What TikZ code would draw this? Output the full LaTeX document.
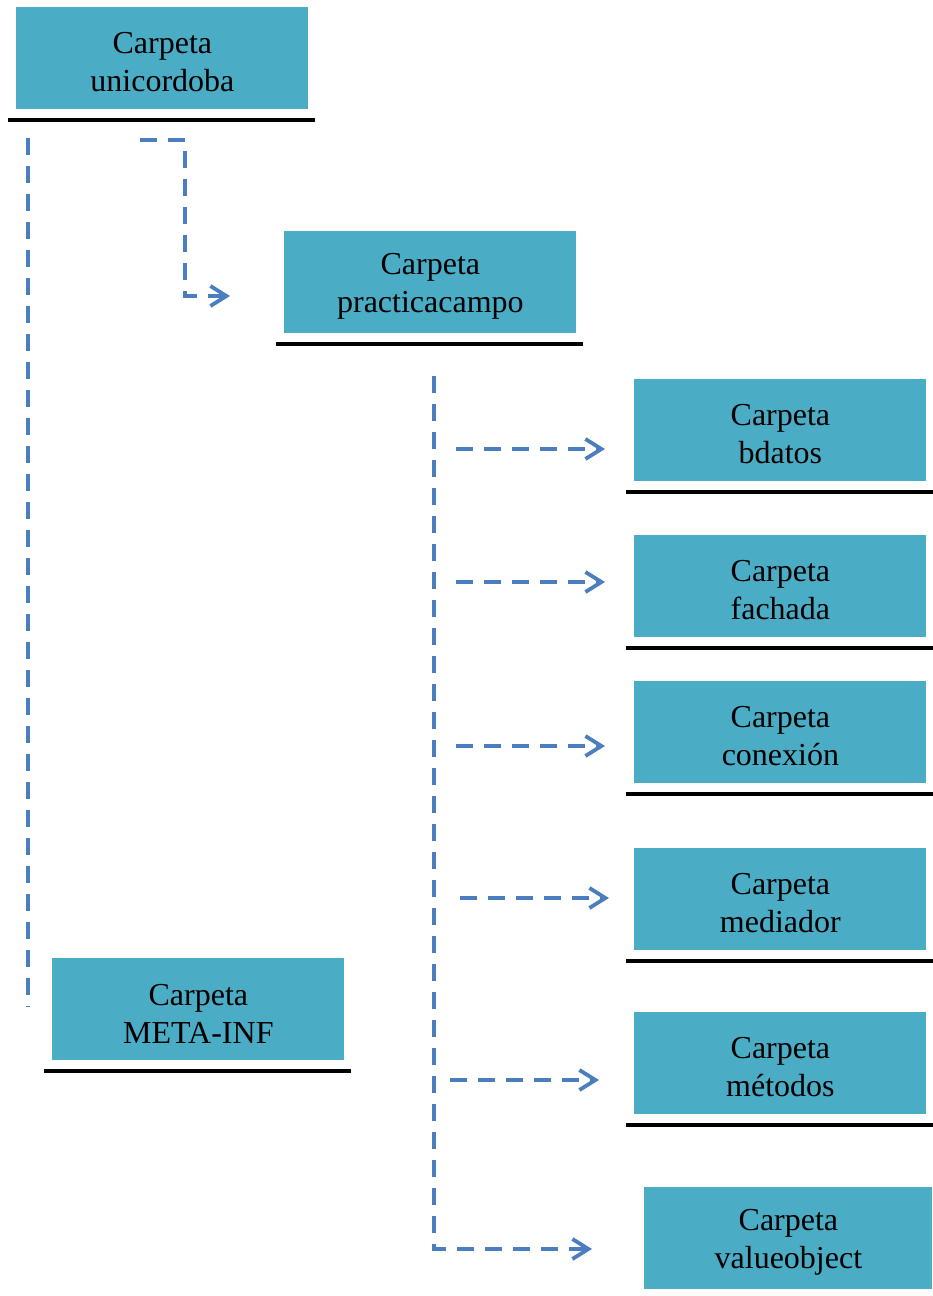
\documentclass[tikz,border=0pt]{standalone}
\usepackage{fontspec}
\setmainfont{Liberation Serif}
\usetikzlibrary{arrows.meta,calc}
\definecolor{folderfill}{HTML}{4BACC6}
\definecolor{linkblue}{HTML}{4A7EBF}
\newcommand{\foldertext}{\fontsize{16}{19}\selectfont}
\begin{document}
\begin{tikzpicture}[x=0.5pt,y=-0.5pt,
  folder/.style={fill=folderfill, draw=none, minimum width=146pt,
    minimum height=51pt, inner sep=0pt, anchor=north west,
    label={[align=center, font=\foldertext, yshift=-2pt]center:#1}},
  link/.style={draw=linkblue, line width=1.9pt, dash pattern=on 8.5pt off 5.5pt},
  tip/.style={-{Straight Barb[length=8pt,width=10pt,line width=1.9pt]}},
  baseline rule/.style={line width=1.8pt, black}]
\useasboundingbox (0,0) rectangle (932,1296);

% folders
\node[folder={Carpeta\\unicordoba}]    (uni) at (16,7)    {};
\node[folder={Carpeta\\practicacampo}] (pc)  at (284,231) {};
\node[folder={Carpeta\\bdatos}]        (bd)  at (634,379) {};
\node[folder={Carpeta\\fachada}]       (fa)  at (634,535) {};
\node[folder={Carpeta\\conexión}]      (co)  at (634,681) {};
\node[folder={Carpeta\\mediador}]      (md)  at (634,848) {};
\node[folder={Carpeta\\métodos}]       (mt)  at (634,1012){};
\node[folder={Carpeta\\valueobject}, minimum width=144pt] (vo) at (644,1187) {};
\node[folder={Carpeta\\META-INF}]      (mi)  at (52,958)  {};

% rules under the folders
\foreach \n in {uni,pc,bd,fa,co,md,mt,mi}
  \draw[baseline rule] ($(\n.south west)+(-8,10)$) -- ($(\n.south east)+(6,10)$);

% trunk under unicordoba
\coordinate (uniTrunk) at (28,138);
\coordinate (uniTrunkEnd) at (28,1007);
\draw[link] (uniTrunk) -- (uniTrunkEnd);

% unicordoba -> practicacampo
\coordinate (uniOut) at (140,140);
\coordinate (pcIn) at (230,296);
\draw[link,tip] (uniOut) -| ($(pcIn)+(-45,0)$) -- (pcIn);

% trunk under practicacampo, ending in the valueobject arrow
\coordinate (pcTrunk) at (434,376);
\coordinate (voIn) at (592,1249);
\draw[link,tip] (pcTrunk) |- (voIn);

% branches towards the sub-folders
\coordinate (bdOut) at (456,449);  \coordinate (bdIn) at (605,449);
\coordinate (faOut) at (456,582);  \coordinate (faIn) at (605,582);
\coordinate (coOut) at (456,746);  \coordinate (coIn) at (605,746);
\coordinate (mdOut) at (460,898);  \coordinate (mdIn) at (609,898);
\coordinate (mtOut) at (450,1080); \coordinate (mtIn) at (599,1080);
\foreach \a/\b in {bdOut/bdIn,faOut/faIn,coOut/coIn,mdOut/mdIn,mtOut/mtIn}
  \draw[link,tip] (\a) -- (\b);
\end{tikzpicture}
\end{document}
